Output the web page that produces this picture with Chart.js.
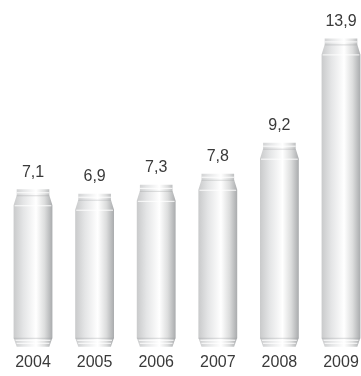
<!DOCTYPE html>
<html>
<head>
<meta charset="utf-8">
<script src="https://cdn.jsdelivr.net/npm/chart.js@4"></script>
<style>
  html, body { margin: 0; padding: 0; background: #fff; }
  #wrap { width: 361px; height: 376px; }
</style>
</head>
<body>
<div id="wrap"><canvas id="myChart"></canvas></div>
<script>
var years = ['2004', '2005', '2006', '2007', '2008', '2009'];
var values = [7.1, 6.9, 7.3, 7.8, 9.2, 13.9];
var yMax = 15;

// draws every bar as a silver can, value label on top
var canPlugin = {
    id: 'cans',
    afterDatasetsDraw: function (chart) {
        var ctx = chart.ctx;
        var meta = chart.getDatasetMeta(0);
        meta.data.forEach(function (bar, i) {
            var p = bar.getProps(['x', 'y', 'base', 'width'], true);
            var w = p.width, l = p.x - w / 2, r = p.x + w / 2;
            var top = p.y, bot = p.base;
            var inset = w * 0.08;

            var grad = ctx.createLinearGradient(l, 0, r, 0);
            grad.addColorStop(0, '#c9cacb');
            grad.addColorStop(0.25, '#e4e5e6');
            grad.addColorStop(0.58, '#ffffff');
            grad.addColorStop(0.8, '#dcdddd');
            grad.addColorStop(1, '#a9abad');

            ctx.save();
            ctx.fillStyle = grad;
            ctx.beginPath();
            ctx.moveTo(l + inset, top);
            ctx.lineTo(r - inset, top);
            ctx.lineTo(r - inset, top + 6);
            ctx.lineTo(r, top + 16);
            ctx.lineTo(r, bot - 9);
            ctx.lineTo(r - inset, bot);
            ctx.lineTo(l + inset, bot);
            ctx.lineTo(l, bot - 9);
            ctx.lineTo(l, top + 16);
            ctx.lineTo(l + inset, top + 6);
            ctx.closePath();
            ctx.fill();

            // rim and ring lines
            ctx.strokeStyle = 'rgba(255,255,255,0.9)';
            ctx.lineWidth = 1;
            ctx.beginPath();
            ctx.moveTo(l + inset, top + 3.5);
            ctx.lineTo(r - inset, top + 3.5);
            ctx.moveTo(l + 1, top + 16.5);
            ctx.lineTo(r - 1, top + 16.5);
            ctx.moveTo(l + 2, bot - 6.5);
            ctx.lineTo(r - 2, bot - 6.5);
            ctx.moveTo(l + 3, bot - 3.5);
            ctx.lineTo(r - 3, bot - 3.5);
            ctx.stroke();
            ctx.strokeStyle = 'rgba(150,152,155,0.35)';
            ctx.beginPath();
            ctx.moveTo(l + inset, top + 6.5);
            ctx.lineTo(r - inset, top + 6.5);
            ctx.moveTo(l, bot - 8.5);
            ctx.lineTo(r, bot - 8.5);
            ctx.stroke();

            // value label
            ctx.fillStyle = '#3a3a3a';
            ctx.font = '16px "Liberation Sans", Arial, sans-serif';
            ctx.textAlign = 'center';
            ctx.textBaseline = 'bottom';
            ctx.fillText(String(values[i]).replace('.', ','), p.x, top - 9);
            ctx.restore();
        });
    }
};

var ctx = document.getElementById('myChart').getContext('2d');
var chart = new Chart(ctx, {
    type: 'bar',
    data: {
        labels: years,
        datasets: [{
            data: values,
            backgroundColor: 'rgba(0,0,0,0)',
            borderWidth: 0,
            clip: false,
            categoryPercentage: 0.63,
            barPercentage: 1
        }]
    },
    options: {
        responsive: true,
        maintainAspectRatio: false,
        animation: false,
        layout: { padding: { left: 33, right: 20, top: 14, bottom: 6 } },
        plugins: {
            legend: { display: false },
            tooltip: { enabled: false }
        },
        scales: {
            x: {
                offset: false,
                grid: { display: false },
                border: { display: false },
                ticks: {
                    color: '#3a3a3a',
                    padding: -2,
                    font: { size: 16, family: '"Liberation Sans", Arial, sans-serif' }
                }
            },
            y: {
                display: false,
                min: 0,
                max: yMax
            }
        }
    },
    plugins: [canPlugin]
});
</script>
</body>
</html>
